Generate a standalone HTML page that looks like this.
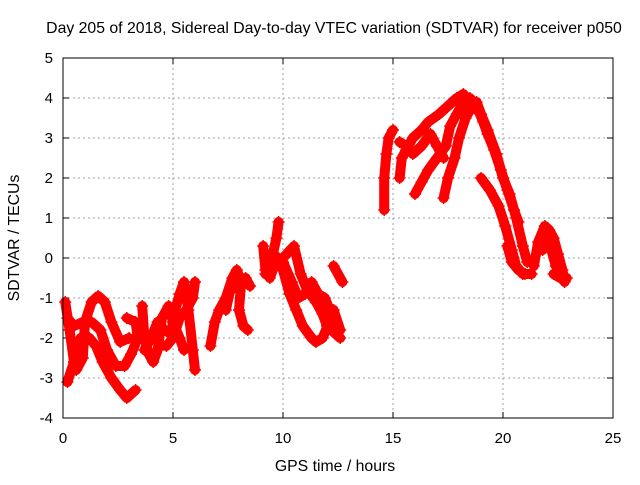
<!DOCTYPE html>
<html><head><meta charset="utf-8"><style>
body{margin:0;background:#fff}
svg{font-family:"Liberation Sans",sans-serif;font-size:15px}
</style></head><body>
<svg id="c" width="640" height="480">
<rect width="640" height="480" fill="#fff"/>
<text x="334" y="33" text-anchor="middle" style="font-size:15.8px">Day 205 of 2018, Sidereal Day-to-day VTEC variation (SDTVAR) for receiver p050</text>
<text x="335" y="471" text-anchor="middle" style="font-size:15.8px">GPS time / hours</text>
<text x="0" y="0" transform="translate(19,238) rotate(-90)" text-anchor="middle" style="font-size:15.8px">SDTVAR / TECUs</text>
<g id="grid"></g><g id="ticks"></g><g id="marks"></g>
<rect x="63" y="58" width="550" height="360" fill="none" stroke="#000"/>
</svg>
<script>
const xTicks=[0,5,10,15,20,25];
const yTicks=[-4,-3,-2,-1,0,1,2,3,4,5];
const trackA=[[0.2,-3.1],[0.5,-2.6],[0.8,-2.0],[1.2,-2.0],[1.5,-2.2],[1.8,-2.6],[2.2,-3.0],[2.6,-3.3],[2.9,-3.5],[3.3,-3.3]];
const trackB=[[0.2,-1.5],[0.5,-1.7],[0.9,-1.6],[1.3,-1.6],[1.7,-1.8],[2.0,-2.3],[2.4,-2.7],[2.8,-2.7],[3.1,-2.4],[3.4,-2.0],[3.3,-1.6],[2.9,-1.5]];
const trackC=[[0.1,-1.1],[0.3,-1.8],[0.5,-2.6],[0.6,-2.8],[0.9,-2.5],[1.0,-1.6],[1.3,-1.1],[1.6,-0.95],[1.9,-1.1],[2.2,-1.6],[2.6,-2.1],[3.0,-2.0]];
const trackD=[[3.6,-1.2],[3.7,-2.0],[3.9,-2.4],[4.1,-2.6],[4.3,-2.3],[4.5,-1.5],[4.8,-1.2],[5.0,-1.6],[5.3,-2.0],[5.5,-2.3]];
const trackE=[[3.7,-2.3],[4.0,-2.0],[4.3,-1.6],[4.6,-1.8],[4.9,-1.9],[5.1,-1.3],[5.3,-0.9],[5.5,-0.6],[5.7,-1.3],[5.9,-2.3],[6.0,-2.8]];
const trackF=[[4.7,-2.2],[5.0,-2.0],[5.3,-1.5],[5.6,-1.3],[5.9,-1.0],[6.0,-0.6]];
const trackG=[[6.7,-2.2],[6.9,-1.6],[7.1,-1.3],[7.4,-1.0],[7.7,-0.5],[7.9,-0.3],[8.1,-0.6],[8.0,-1.3],[8.2,-1.7],[8.4,-1.8]];
const trackG2=[[7.4,-1.3],[7.6,-0.8],[8.0,-0.7],[8.3,-0.5],[8.5,-0.7]];
const trackH=[[9.1,0.3],[9.2,-0.3],[9.4,-0.5],[9.6,-0.2],[9.8,0.0],[10.0,-0.3],[10.3,-0.9],[10.6,-1.3],[10.9,-1.7],[11.3,-2.0],[11.5,-2.1],[11.8,-2.0],[12.1,-1.6],[12.3,-1.3],[12.6,-1.8]];
const trackH2=[[9.2,-0.4],[9.5,0.0],[9.7,0.5],[9.8,0.9]];
const trackH3=[[9.5,-0.1],[10.0,0.0],[10.5,0.3],[10.8,-0.4],[11.1,-0.8],[11.5,-1.1],[11.8,-1.4],[12.0,-1.7],[12.6,-2.0]];
const trackH4=[[10.0,-0.1],[10.4,-0.6],[10.7,-1.0],[11.0,-0.9],[11.3,-0.6],[11.6,-0.9],[11.9,-1.0],[12.2,-1.4],[12.5,-1.7]];
const trackH5=[[12.3,-0.2],[12.7,-0.6]];
const trackI=[[14.6,1.2],[14.6,2.0],[14.7,2.6],[14.8,3.0],[15.0,3.2]];
const trackJ=[[15.3,2.0],[15.4,2.5],[15.6,2.7],[15.9,3.0],[16.3,3.2],[16.6,3.4],[17.1,3.6],[17.5,3.8],[17.9,4.0],[18.2,4.1],[18.5,3.9],[18.8,3.7]];
const trackJ2=[[15.3,2.9],[15.6,2.8],[15.9,2.6],[16.3,2.8],[16.7,3.1],[17.0,2.8],[17.3,2.5]];
const trackK=[[16.0,1.6],[16.3,1.9],[16.6,2.2],[17.0,2.5],[17.4,2.8],[17.6,3.3],[17.9,3.6],[18.2,3.9],[18.5,4.0],[18.8,3.8],[19.1,3.4],[19.3,3.1],[19.6,2.7],[19.9,2.2],[20.2,1.7],[20.5,1.2],[20.7,0.9]];
const trackK2=[[17.3,1.5],[17.5,2.0],[17.8,2.5],[18.0,3.0],[18.3,3.5],[18.6,3.8],[18.8,3.9],[19.0,3.6],[19.3,3.2],[19.7,2.6],[20.0,2.0],[20.3,1.6],[20.6,1.0],[20.9,0.3],[21.1,-0.1]];
const trackL=[[19.0,2.0],[19.4,1.7],[19.8,1.3],[20.1,0.8],[20.4,0.2],[20.6,-0.2],[20.9,-0.4],[21.3,-0.4]];
const trackM=[[20.2,0.3],[20.4,-0.1],[20.7,-0.3],[21.0,-0.4]];
const trackN=[[21.4,-0.2],[21.6,0.4],[21.9,0.8],[22.1,0.7],[22.3,0.5],[22.5,0.1],[22.7,-0.3],[22.8,-0.6]];
const trackN2=[[21.8,0.2],[22.0,0.5],[22.2,0.2],[22.4,-0.2]];
const trackN3=[[22.3,-0.4],[22.6,-0.5],[22.9,-0.5]];
const tracks=[trackA,trackB,trackC,trackD,trackE,trackF,trackG,trackG2,trackH,trackH2,trackH3,trackH4,trackH5,trackI,trackJ,trackJ2,trackK,trackK2,trackL,trackM,trackN,trackN2,trackN3];
const NS='http://www.w3.org/2000/svg';
const X=t=>63+t*22, Y=v=>258-v*40;
function mk(tag,parent,attrs){const e=document.createElementNS(NS,tag);for(const k in attrs)e.setAttribute(k,attrs[k]);parent.appendChild(e);return e;}
const grid=document.getElementById('grid'),ticks=document.getElementById('ticks'),marks=document.getElementById('marks');
xTicks.forEach(t=>{
 if(t>0&&t<25){const g=mk('line',grid,{x1:X(t),x2:X(t),y1:58,y2:418,stroke:'#a0a0a0','stroke-dasharray':'2,3'});
 
 }
 mk('line',ticks,{x1:X(t),x2:X(t),y1:418,y2:412,stroke:'#000'});
 mk('line',ticks,{x1:X(t),x2:X(t),y1:58,y2:64,stroke:'#000'});
 const l=mk('text',ticks,{x:X(t),y:443,'text-anchor':'middle'});l.textContent=t;
 
 
});
yTicks.forEach(v=>{
 if(v>-4&&v<5){const g=mk('line',grid,{x1:63,x2:613,y1:Y(v),y2:Y(v),stroke:'#a0a0a0','stroke-dasharray':'2,3'});
 
 }
 mk('line',ticks,{x1:63,x2:69,y1:Y(v),y2:Y(v),stroke:'#000'});
 mk('line',ticks,{x1:613,x2:607,y1:Y(v),y2:Y(v),stroke:'#000'});
 const l=mk('text',ticks,{x:53,y:Y(v)+5,'text-anchor':'end'});l.textContent=v;
 
 
});
tracks.forEach(tr=>{
 const p=mk('polyline',marks,{points:tr.map(d=>X(d[0])+','+Y(d[1])).join(' '),fill:'none',stroke:'#ff0000','stroke-width':10,'stroke-linejoin':'round','stroke-linecap':'round'});
 
 
 tr.forEach(d=>{
  const m=mk('path',marks,{d:`M${X(d[0])-6},${Y(d[1])}h12M${X(d[0])},${Y(d[1])-6}v12`,stroke:'#ff0000','stroke-width':1.5});
  
  
 });
});
</script>
</body></html>
